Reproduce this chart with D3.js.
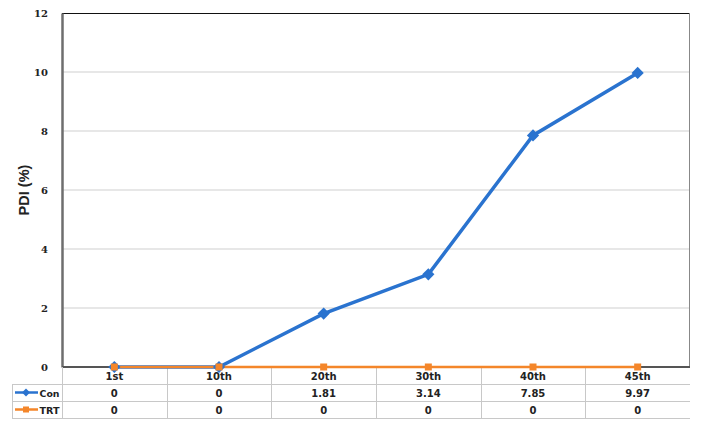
<!DOCTYPE html>
<html>
<head>
<meta charset="utf-8">
<script src="https://cdn.jsdelivr.net/npm/d3@7"></script>
<style>
  body { margin: 0; background: #fff; }
  svg text { font-family: "DejaVu Sans", Verdana, sans-serif; font-weight: bold; fill: #222; }
</style>
</head>
<body>
<div id="chart"></div>
<script>
const categories = ["1st", "10th", "20th", "30th", "40th", "45th"];
const seriesNames = ["Con", "TRT"];
const conValues = [0, 0, 1.81, 3.14, 7.85, 9.97];
const trtValues = [0, 0, 0, 0, 0, 0];
const yTicks = [0, 2, 4, 6, 8, 10, 12];
const colors = { Con: "#2a73cf", TRT: "#f4862a" };

const W = 702, H = 430;
const plot = { left: 62, right: 690, top: 13, bottom: 367 };
const rowH = 17;

const svg = d3.select("#chart").append("svg")
    .attr("width", W).attr("height", H);

const x = d3.scaleBand().domain(categories).range([plot.left, plot.right]);
const y = d3.scaleLinear().domain([0, 12]).range([plot.bottom, plot.top]);

// gridlines
svg.append("g").selectAll("line").data(yTicks.filter(t => t > 0 && t < 12)).join("line")
    .attr("x1", plot.left).attr("x2", plot.right)
    .attr("y1", d => y(d)).attr("y2", d => y(d))
    .attr("stroke", "#cfcfcf").attr("stroke-width", 1);

// frame
svg.append("line").attr("x1", plot.left).attr("x2", plot.right)
    .attr("y1", plot.top + 0.5).attr("y2", plot.top + 0.5).attr("stroke", "#111").attr("stroke-width", 1.2);
svg.append("line").attr("x1", plot.right - 0.5).attr("x2", plot.right - 0.5)
    .attr("y1", plot.top).attr("y2", plot.bottom).attr("stroke", "#888");

// y axis
const yAxis = svg.append("g").attr("transform", `translate(${plot.left},0)`)
    .call(d3.axisLeft(y).tickValues(yTicks).tickSize(0).tickPadding(14));
yAxis.select(".domain").attr("stroke", "#6e6e6e").attr("stroke-width", 2.5);
yAxis.selectAll("text").attr("font-size", 10).style("font-family", "\"DejaVu Serif\", serif");

svg.append("text")
    .attr("transform", `translate(29,${(plot.top + plot.bottom) / 2}) rotate(-90)`)
    .attr("text-anchor", "middle")
    .attr("font-size", 14.5)
    .style("font-family", "\"Liberation Sans\", Arial, sans-serif")
    .text("PDI (%)");

// bottom axis line
svg.append("line").attr("x1", plot.left).attr("x2", plot.right)
    .attr("y1", plot.bottom).attr("y2", plot.bottom).attr("stroke", "#555").attr("stroke-width", 2);

// data table
const tableBottom = plot.bottom + rowH * 3;
const tbl = svg.append("g");
const gridColor = "#c8c8c8";
[1, 2, 3].forEach(i => {
  tbl.append("line").attr("x1", 12).attr("x2", plot.right)
    .attr("y1", plot.bottom + rowH * i + 0.5).attr("y2", plot.bottom + rowH * i + 0.5)
    .attr("stroke", gridColor);
});
tbl.append("line").attr("x1", 12.5).attr("x2", 12.5)
  .attr("y1", plot.bottom + rowH).attr("y2", tableBottom).attr("stroke", gridColor);
tbl.selectAll("line.v").data(categories).join("line").attr("class", "v")
  .attr("x1", d => Math.round(x(d)) + 0.5).attr("x2", d => Math.round(x(d)) + 0.5)
  .attr("y1", plot.bottom).attr("y2", tableBottom).attr("stroke", gridColor);

// category labels
tbl.selectAll("text.cat").data(categories).join("text").attr("class", "cat")
  .attr("x", d => x(d) + x.bandwidth() / 2).attr("y", plot.bottom + 13)
  .attr("text-anchor", "middle").attr("font-size", 10).text(d => d);

const rows = [
  { name: seriesNames[0], values: conValues },
  { name: seriesNames[1], values: trtValues }
];
rows.forEach((r, i) => {
  const cy = plot.bottom + rowH * (i + 1) + rowH / 2;
  tbl.selectAll(`text.v${i}`).data(r.values).join("text").attr("class", `v${i}`)
    .attr("x", (d, j) => x(categories[j]) + x.bandwidth() / 2).attr("y", cy + 4)
    .attr("text-anchor", "middle").attr("font-size", 10).text(d => d);
  // legend key
  tbl.append("line").attr("x1", 15).attr("x2", 38).attr("y1", cy).attr("y2", cy)
    .attr("stroke", colors[r.name]).attr("stroke-width", 2.5);
  if (r.name === "Con") {
    tbl.append("path").attr("d", d3.symbol(d3.symbolDiamond2, 40)())
      .attr("transform", `translate(26,${cy})`).attr("fill", colors.Con);
  } else {
    tbl.append("rect").attr("x", 23).attr("y", cy - 3).attr("width", 6).attr("height", 6)
      .attr("fill", colors.TRT);
  }
  tbl.append("text").attr("x", 39.5).attr("y", cy + 4).attr("font-size", 9)
    .attr("textLength", 20).attr("lengthAdjust", "spacingAndGlyphs").text(r.name);
});

// series lines
const cx = d => x(d) + x.bandwidth() / 2;
const line = d3.line().x((d, i) => cx(categories[i])).y(d => y(d));

svg.append("path").datum(conValues).attr("d", line)
  .attr("fill", "none").attr("stroke", colors.Con).attr("stroke-width", 3.5);
svg.append("path").datum(trtValues).attr("d", line)
  .attr("fill", "none").attr("stroke", colors.TRT).attr("stroke-width", 2.5);

svg.selectAll("path.con").data(conValues).join("path").attr("class", "con")
  .attr("d", d3.symbol(d3.symbolDiamond2, 95)())
  .attr("transform", (d, i) => `translate(${cx(categories[i])},${y(d)})`)
  .attr("fill", colors.Con);

svg.selectAll("rect.trt").data(trtValues).join("rect").attr("class", "trt")
  .attr("x", (d, i) => cx(categories[i]) - 3.5).attr("y", d => y(d) - 3.5)
  .attr("width", 7).attr("height", 7).attr("fill", colors.TRT);
</script>
</body>
</html>
